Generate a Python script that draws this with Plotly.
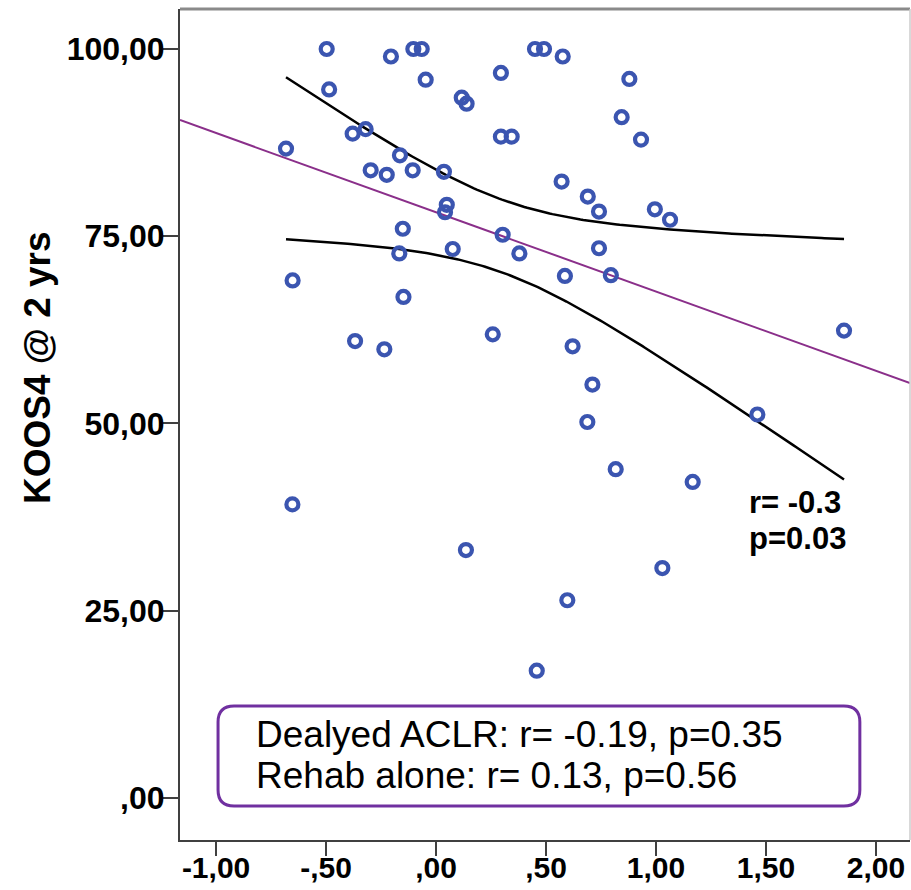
import numpy as np
import plotly.graph_objects as go

# ---- data ----
x_vals = [-0.497, -0.205, -0.103, -0.065, 0.295, -0.047, -0.486, 0.117, 0.139, -0.379,
          -0.320, 0.295, 0.344, -0.682, -0.164, -0.297, -0.224, -0.106, 0.036, 0.049,
          0.041, -0.151, 0.303, 0.076, -0.167, 0.379, -0.652, -0.148,
          0.450, 0.491, 0.576, 0.879, 0.844, 0.932, 0.571, 0.690, 0.741, 0.995,
          1.064, 0.741, 0.586, 0.795,
          -0.368, -0.235, 0.258, -0.653, 0.136, 0.458,
          1.855, 0.621, 0.711, 0.688, 1.461, 0.817, 1.167, 1.029, 0.597]
y_vals = [100.0, 99.0, 100.0, 100.0, 96.8, 95.9, 94.6, 93.5, 92.7, 88.7,
          89.3, 88.3, 88.3, 86.7, 85.8, 83.8, 83.2, 83.8, 83.6, 79.2,
          78.2, 76.0, 75.2, 73.3, 72.7, 72.7, 69.1, 66.9,
          100.0, 100.0, 99.0, 96.0, 90.9, 87.9, 82.3, 80.3, 78.3, 78.6,
          77.2, 73.4, 69.7, 69.8,
          61.0, 59.9, 61.9, 39.2, 33.1, 17.0,
          62.4, 60.3, 55.2, 50.2, 51.2, 43.9, 42.2, 30.7, 26.4]

# regression fit
fit_intercept = 78.2
fit_slope = -10.58
ci_xbar = 0.30
ci_min_half = 4.85
ci_curv = 97.0

x_tickvals = [-1.0, -0.5, 0.0, 0.5, 1.0, 1.5, 2.0]
x_ticktext = ["-1,00", "-,50", ",00", ",50", "1,00", "1,50", "2,00"]
y_tickvals = [0, 25, 50, 75, 100]
y_ticktext = [",00", "25,00", "50,00", "75,00", "100,00"]

y_title = "KOOS4 @ 2 yrs"
stat_lines = ["r= -0.3", "p=0.03"]
box_lines = ["Dealyed ACLR: r= -0.19, p=0.35", "Rehab alone: r= 0.13, p=0.56"]

XR = [-1.164, 2.155]
YR = [-5.61, 105.34]

FONT = "Liberation Sans"

fig = go.Figure()

# regression line across the full axis
xl = np.linspace(XR[0], XR[1], 50)
fig.add_trace(go.Scatter(x=xl, y=fit_intercept + fit_slope * xl, mode="lines",
                         line=dict(color="#8a2f8a", width=2), hoverinfo="skip"))

# confidence band curves over the data range
xc = np.linspace(min(x_vals), max(x_vals), 200)
yhat = fit_intercept + fit_slope * xc
half = np.sqrt(ci_min_half ** 2 + ci_curv * (xc - ci_xbar) ** 2)
for sgn in (1, -1):
    fig.add_trace(go.Scatter(x=xc, y=yhat + sgn * half, mode="lines",
                             line=dict(color="black", width=2.5), hoverinfo="skip"))

fig.add_trace(go.Scatter(x=x_vals, y=y_vals, mode="markers",
                         marker=dict(symbol="circle-open", size=12, color="#3b55b0",
                                     line=dict(width=4.2, color="#3b55b0"))))

# stat annotation
for txt, yy in zip(stat_lines, [39.4, 34.6]):
    fig.add_annotation(x=1.414, y=yy, text=txt, showarrow=False, xanchor="left",
                       yanchor="middle",
                       font=dict(family=FONT, size=31, color="black", weight="bold"))

# rounded box
px_per_x = 730 / (XR[1] - XR[0])
px_per_y = 831 / (YR[1] - YR[0])
bx0, bx1 = -0.991, 1.927
by0, by1 = -1.07, 12.28
rad = 16
rx = rad / px_per_x
ry = rad / px_per_y
path = (f"M {bx0 + rx},{by1} L {bx1 - rx},{by1} Q {bx1},{by1} {bx1},{by1 - ry} "
        f"L {bx1},{by0 + ry} Q {bx1},{by0} {bx1 - rx},{by0} "
        f"L {bx0 + rx},{by0} Q {bx0},{by0} {bx0},{by0 + ry} "
        f"L {bx0},{by1 - ry} Q {bx0},{by1} {bx0 + rx},{by1} Z")
fig.add_shape(type="path", path=path, xref="x", yref="y",
              line=dict(color="#7030a0", width=3), fillcolor="white", layer="above")
for txt, yy in zip(box_lines, [8.41, 2.94]):
    fig.add_annotation(x=-0.827, y=yy, text=txt, showarrow=False, xanchor="left",
                       yanchor="middle", font=dict(family=FONT, size=37, color="black"))

# y-axis title (placed like the reference, above centre)
fig.add_annotation(xref="paper", yref="paper", x=-0.1945, y=0.568, text=y_title,
                   textangle=-90, showarrow=False, xanchor="center", yanchor="middle",
                   font=dict(family=FONT, size=37, color="black", weight="bold"))

# frame: top (gray, thick) and right (light gray)
fig.add_shape(type="line", xref="paper", yref="paper", x0=0, x1=1, y0=1, y1=1,
              line=dict(color="#8a8a8a", width=3))
fig.add_shape(type="line", xref="paper", yref="paper", x0=1, x1=1, y0=0, y1=1,
              line=dict(color="#cccccc", width=1.5))

fig.update_layout(
    width=911, height=890,
    margin=dict(l=180, r=1, t=9, b=50, autoexpand=False),
    paper_bgcolor="white", plot_bgcolor="white",
    showlegend=False,
    xaxis=dict(range=XR, tickvals=x_tickvals, ticktext=x_ticktext, showgrid=False,
               zeroline=False, showline=True, linecolor="#404040", linewidth=2,
               ticks="outside", ticklen=14, tickwidth=2, tickcolor="#404040",
               ticklabelstandoff=-14, automargin=False,
               tickfont=dict(family=FONT, size=30, color="black", weight="bold")),
    yaxis=dict(range=YR, tickvals=y_tickvals, ticktext=y_ticktext, showgrid=False,
               zeroline=False, showline=True, linecolor="#404040", linewidth=2,
               ticks="outside", ticklen=15, tickwidth=2, tickcolor="#404040",
               ticklabelstandoff=-8, automargin=False,
               tickfont=dict(family=FONT, size=32, color="black", weight="bold")),
)

fig.write_html("out.html", config={"displayModeBar": False},
               post_script="document.body.style.margin='0';document.body.style.overflow='hidden';")
